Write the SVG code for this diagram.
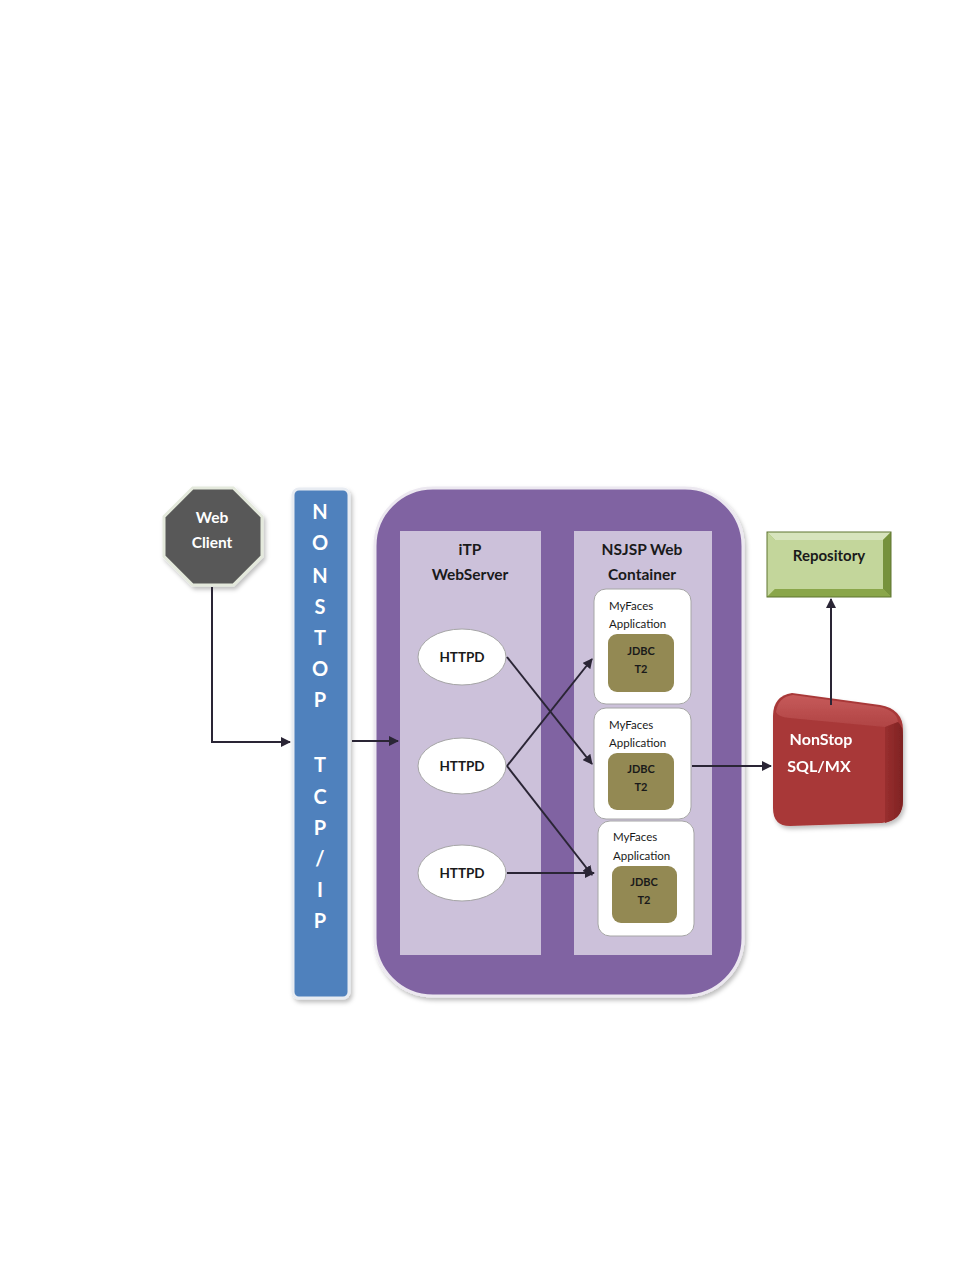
<svg xmlns="http://www.w3.org/2000/svg" width="954" height="1270" viewBox="0 0 954 1270">
<defs>
<style>
.t{font-family:Lato,"Liberation Sans",sans-serif;font-weight:700;text-anchor:middle}
.s{text-anchor:start;font-weight:400}
.w{fill:#ffffff}
.k{fill:#1a1a1a}
.panel{fill:#ccc1da}
.app{fill:#ffffff;stroke:#a6a6a6;stroke-width:1}
.jdbc{fill:#938953}
.ell{fill:#ffffff;stroke:#a6a6a6;stroke-width:1}
.c{stroke:#2a2535;stroke-width:2;fill:none}
</style>
<marker id="ah" viewBox="0 0 10 10" refX="9" refY="5" markerWidth="5" markerHeight="5" orient="auto" markerUnits="strokeWidth">
<path d="M0,0 L10,5 L0,10 z" fill="#2a2535"/>
</marker>
<filter id="sh" x="-10%" y="-10%" width="125%" height="125%">
<feDropShadow dx="2" dy="3" stdDeviation="2" flood-color="#000" flood-opacity="0.25"/>
</filter>
<linearGradient id="redTop" x1="0" y1="0" x2="0" y2="1">
<stop offset="0" stop-color="#c65a5a"/>
<stop offset="1" stop-color="#b04444"/>
</linearGradient>
<linearGradient id="redSide" x1="0" y1="0" x2="1" y2="0">
<stop offset="0" stop-color="#992f2f"/>
<stop offset="1" stop-color="#7e2222"/>
</linearGradient>
</defs>

<g id="web-client">
<polygon points="192.7,488 233.3,488 262,516.7 262,556.3 233.3,585 192.7,585 164,556.3 164,516.7" fill="#595959" stroke="#e4e9dc" stroke-width="3" filter="url(#sh)"/>
<text class="t w" x="212" y="523" font-size="15.5">Web</text>
<text class="t w" x="212" y="548" font-size="15.5">Client</text>
</g>

<g id="nonstop-tcpip">
<rect x="293" y="489" width="56" height="509" rx="6" fill="#4f81bd" stroke="#e8ecf2" stroke-width="3" filter="url(#sh)"/>
<g class="t w" font-size="20">
<text x="320" y="519">N</text>
<text x="320" y="550">O</text>
<text x="320" y="583">N</text>
<text x="320" y="614">S</text>
<text x="320" y="645">T</text>
<text x="320" y="676">O</text>
<text x="320" y="707">P</text>
<text x="320" y="772">T</text>
<text x="320" y="804">C</text>
<text x="320" y="835">P</text>
<text x="320" y="866">/</text>
<text x="320" y="897">I</text>
<text x="320" y="928">P</text>
</g>
</g>

<g id="server">
<rect x="375" y="488" width="368" height="508" rx="58" fill="#8064a2" stroke="#ece8f0" stroke-width="3" filter="url(#sh)"/>
</g>

<g id="itp-webserver">
<rect class="panel" x="400" y="531" width="141" height="424"/>
<text class="t k" x="470" y="555" font-size="15.5">iTP</text>
<text class="t k" x="470" y="580" font-size="15.5">WebServer</text>
</g>

<g id="nsjsp-container">
<rect class="panel" x="574" y="531" width="138" height="424"/>
<text class="t k" x="642" y="555" font-size="15.5">NSJSP Web</text>
<text class="t k" x="642" y="580" font-size="15.5">Container</text>
</g>

<g id="httpd-1">
<ellipse class="ell" cx="462" cy="657" rx="44" ry="28"/>
<text class="t k" x="462" y="662" font-size="13.5">HTTPD</text>
</g>
<g id="httpd-2">
<ellipse class="ell" cx="462" cy="766" rx="44" ry="28"/>
<text class="t k" x="462" y="771" font-size="13.5">HTTPD</text>
</g>
<g id="httpd-3">
<ellipse class="ell" cx="462" cy="873" rx="44" ry="28"/>
<text class="t k" x="462" y="878" font-size="13.5">HTTPD</text>
</g>

<g id="myfaces-1">
<rect class="app" x="594" y="589" width="97" height="115" rx="12"/>
<text class="t k s" x="609" y="610" font-size="11.5">MyFaces</text>
<text class="t k s" x="609" y="628" font-size="11.5">Application</text>
<rect class="jdbc" x="608" y="634" width="66" height="58" rx="9"/>
<text class="t k" x="641" y="655" font-size="11">JDBC</text>
<text class="t k" x="641" y="673" font-size="11">T2</text>
</g>
<g id="myfaces-2">
<rect class="app" x="594" y="708" width="97" height="111" rx="12"/>
<text class="t k s" x="609" y="729" font-size="11.5">MyFaces</text>
<text class="t k s" x="609" y="747" font-size="11.5">Application</text>
<rect class="jdbc" x="608" y="753" width="66" height="57" rx="9"/>
<text class="t k" x="641" y="773" font-size="11">JDBC</text>
<text class="t k" x="641" y="791" font-size="11">T2</text>
</g>
<g id="myfaces-3">
<rect class="app" x="598" y="821" width="96" height="115" rx="12"/>
<text class="t k s" x="613" y="841" font-size="11.5">MyFaces</text>
<text class="t k s" x="613" y="860" font-size="11.5">Application</text>
<rect class="jdbc" x="612" y="866" width="65" height="57" rx="9"/>
<text class="t k" x="644" y="886" font-size="11">JDBC</text>
<text class="t k" x="644" y="904" font-size="11">T2</text>
</g>

<g id="repository">
<rect x="767" y="532" width="124" height="65" fill="#9bbb59"/>
<polygon points="767,532 891,532 883,540 775,540" fill="#d7e4bd"/>
<polygon points="767,532 775,540 775,589 767,597" fill="#c3d69b"/>
<polygon points="891,532 891,597 883,589 883,540" fill="#76923c"/>
<polygon points="767,597 775,589 883,589 891,597" fill="#8aa64a"/>
<rect x="775" y="540" width="108" height="49" fill="#c3d69b"/>
<rect x="767" y="532" width="124" height="65" fill="none" stroke="#5f7530" stroke-width="1"/>
<text class="t k" x="829" y="561" font-size="15">Repository</text>
</g>

<g id="nonstop-sqlmx" filter="url(#sh)">
<path d="M773,716 Q773,696 792,693 L880,705 Q903,709 903,730 L903,800 Q903,820 882,823 L790,826 Q773,826 773,808 Z" fill="#a83838"/>
<path d="M776,712 Q778,697 793,695 L880,707 Q897,711 898,722 L885,727 L790,718 Q778,717 776,712 Z" fill="url(#redTop)"/>
<path d="M885,727 L898,722 Q903,726 903,736 L903,800 Q903,818 888,822 L885,823 Z" fill="url(#redSide)"/>
<text class="t w" x="821" y="745" font-size="16">NonStop</text>
<text class="t w" x="819" y="772" font-size="16">SQL/MX</text>
</g>

<g id="connectors">
<polyline class="c" points="212,587 212,742 290,742" marker-end="url(#ah)"/>
<line class="c" x1="352" y1="741" x2="398" y2="741" marker-end="url(#ah)"/>
<line class="c" x1="507" y1="657" x2="592" y2="764" marker-end="url(#ah)"/>
<line class="c" x1="507" y1="766" x2="592" y2="659" marker-end="url(#ah)"/>
<line class="c" x1="507" y1="766" x2="592" y2="875" marker-end="url(#ah)"/>
<line class="c" x1="507" y1="873" x2="594" y2="873" marker-end="url(#ah)"/>
<line class="c" x1="692" y1="766" x2="771" y2="766" marker-end="url(#ah)"/>
<line class="c" x1="831" y1="705" x2="831" y2="599" marker-end="url(#ah)"/>
</g>
</svg>
